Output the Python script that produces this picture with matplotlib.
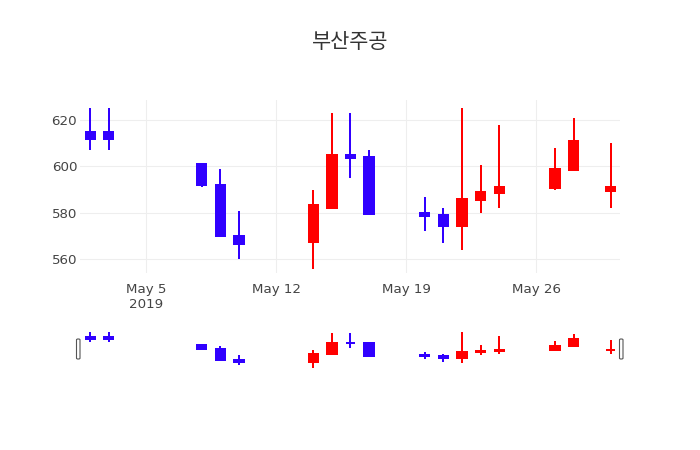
import numpy as np
import pandas as pd
import matplotlib
matplotlib.use('Agg')
import matplotlib.pyplot as plt
import matplotlib.dates as mdates
from matplotlib.patches import FancyBboxPatch

dates = ['2019-05-02', '2019-05-03', '2019-05-08', '2019-05-09', '2019-05-10',
         '2019-05-14', '2019-05-15', '2019-05-16', '2019-05-17', '2019-05-20',
         '2019-05-21', '2019-05-22', '2019-05-23', '2019-05-24', '2019-05-27',
         '2019-05-28', '2019-05-30']
opens = [615, 615, 601, 592, 570, 567.5, 582, 605, 604, 580, 579, 574.5, 585.5, 588.5, 590.5, 598.5, 589.5]
highs = [625, 625, 601, 599, 581, 590, 623, 623, 607, 587, 582, 625, 600.5, 618, 608, 621, 610]
lows = [607, 607, 591, 569.5, 560, 556, 582, 595, 579.5, 572, 567, 564, 580, 582, 590, 598.5, 582]
closes = [612, 612, 592, 570, 566.5, 583.5, 605, 603.5, 579.5, 578.5, 574.5, 586, 589, 591, 599, 611, 591]

tick_dates = ['2019-05-05', '2019-05-12', '2019-05-19', '2019-05-26']
tick_labels = ['May 5\n2019', 'May 12', 'May 19', 'May 26']
title = '부산주공'

up_color = '#ff0000'
down_color = '#3000ff'

plt.rcParams['font.family'] = ['DejaVu Sans']

x = mdates.date2num(pd.to_datetime(dates))
o = np.array(opens)
h = np.array(highs)
l = np.array(lows)
c = np.array(closes)
colors = [up_color if cc >= oo else down_color for oo, cc in zip(o, c)]

xlim = (x[0] - 0.55, x[-1] + 0.5)
ylim = (554.1, 628.6)


def candles(ax, lw):
    ax.vlines(x, l, h, colors=colors, linewidth=lw, zorder=3)
    bottom = np.minimum(o, c)
    height = np.abs(c - o)
    ax.bar(x, height, bottom=bottom, width=0.5, color=colors,
           edgecolor=colors, linewidth=1.44, zorder=4)


fig = plt.figure(figsize=(7, 4.5), dpi=100)

ax = fig.add_axes([80 / 700, (450 - 273) / 450, 540 / 700, 173 / 450])
candles(ax, 1.44)
ax.set_xlim(xlim)
ax.set_ylim(ylim)
ax.set_yticks([560, 580, 600, 620])
ax.set_xticks(mdates.date2num(pd.to_datetime(tick_dates)))
ax.set_xticklabels(tick_labels, linespacing=1.25)
ax.grid(True, color='#eeeeee', linewidth=0.75, zorder=0)
ax.set_axisbelow(True)
for s in ax.spines.values():
    s.set_visible(False)
ax.tick_params(length=0, colors='#444444', labelsize=9.6)
ax.tick_params(axis='y', pad=2)
ax.tick_params(axis='x', pad=7)

# range slider
axs = fig.add_axes([80 / 700, (450 - 368.5) / 450, 540 / 700, 38 / 450])
candles(axs, 1.44)
axs.set_xlim(xlim)
axs.set_ylim(ylim)
axs.set_xticks([])
axs.set_yticks([])
for s in axs.spines.values():
    s.set_visible(False)

for hx in [76.5, 619.5]:
    handle = FancyBboxPatch((hx / 700, (450 - 359) / 450), 3.5 / 700, 20 / 450,
                            boxstyle='round,pad=0,rounding_size=0.002',
                            transform=fig.transFigure, facecolor='white',
                            edgecolor='#555555', linewidth=0.8, zorder=10)
    fig.patches.append(handle)

fig.text(350 / 700, 1 - 42 / 450, title, ha='center', va='center',
         fontsize=15, color='#333333', family=['Noto Sans CJK KR', 'DejaVu Sans'])

fig.savefig('out.png', dpi=100)
